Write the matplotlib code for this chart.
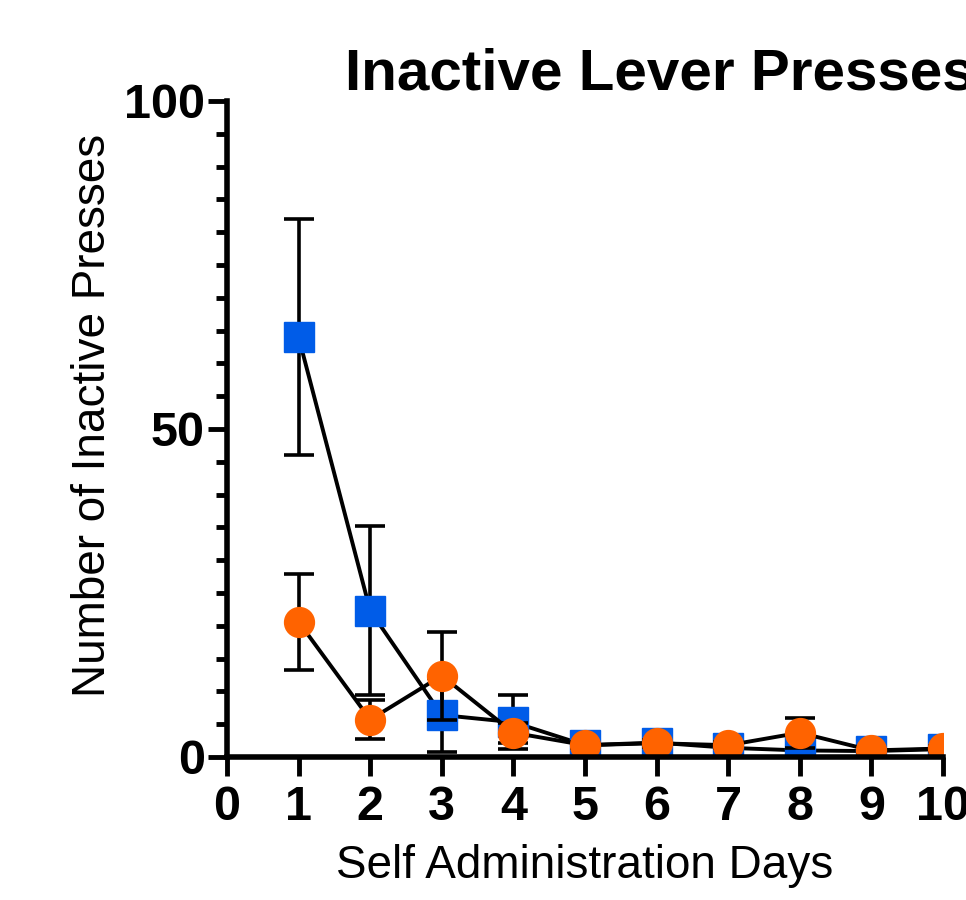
import numpy as np
import matplotlib
matplotlib.use("Agg")
import matplotlib.pyplot as plt
from matplotlib.ticker import MultipleLocator

plt.rcParams['font.family'] = ['Liberation Sans', 'DejaVu Sans']

# values
days = [1, 2, 3, 4, 5, 6, 7, 8, 9, 10]
blue_mean = [64.0, 22.3, 6.4, 5.3, 1.8, 2.2, 1.4, 1.0, 0.9, 1.2]
blue_sem = [18.0, 12.9, 5.6, 4.1, 0.5, 0.5, 0.4, 0.3, 0.3, 0.3]
orange_mean = [20.6, 5.7, 12.4, 3.7, 1.8, 2.1, 1.8, 3.7, 1.0, 1.3]
orange_sem = [7.3, 3.0, 6.7, 1.5, 0.5, 0.5, 0.5, 2.3, 0.3, 0.4]

x_ticks = [0, 1, 2, 3, 4, 5, 6, 7, 8, 9, 10]
y_ticks = [0, 50, 100]

blue = '#005CE8'
orange = '#FF6300'

fig = plt.figure(figsize=(9.66, 9.0), dpi=100)
ax = fig.add_axes([227/966, 1 - 757/900, (943-227)/966, (757-101)/900])

ax.errorbar(days, blue_mean, yerr=blue_sem, fmt='-s', color='black', lw=2.8,
            ms=21, mfc=blue, mec=blue, ecolor='black', elinewidth=2.6,
            capsize=10.5, capthick=2.6, zorder=2)
ax.errorbar(days, orange_mean, yerr=orange_sem, fmt='-o', color='black', lw=2.8,
            ms=21.5, mfc=orange, mec=orange, ecolor='black', elinewidth=2.6,
            capsize=10.5, capthick=2.6, zorder=3)

ax.set_xlim(0, 10)
ax.set_ylim(0, 100)
ax.set_xticks(x_ticks)
ax.set_yticks(y_ticks)
ax.yaxis.set_minor_locator(MultipleLocator(5))

for s in ['top', 'right']:
    ax.spines[s].set_visible(False)
for s in ['left', 'bottom']:
    ax.spines[s].set_linewidth(4)
    ax.spines[s].set_zorder(5)

ax.tick_params(which='major', length=14, width=3.5, labelsize=35, pad=6)
ax.tick_params(axis='y', which='major', pad=2)
ax.tick_params(which='minor', length=8, width=3.5)
for lbl in ax.get_xticklabels() + ax.get_yticklabels():
    lbl.set_fontweight('bold')

ax.set_xlabel('Self Administration Days', fontsize=33, labelpad=10)
ax.set_ylabel('Number of Inactive Presses', fontsize=33)
ax.yaxis.set_label_coords(-0.157, 0.52)

fig.text(345/966, 1 - 90/900, 'Inactive Lever Presses', fontsize=42,
         fontweight='bold', ha='left', va='baseline')

fig.savefig('out.png', dpi=100)
